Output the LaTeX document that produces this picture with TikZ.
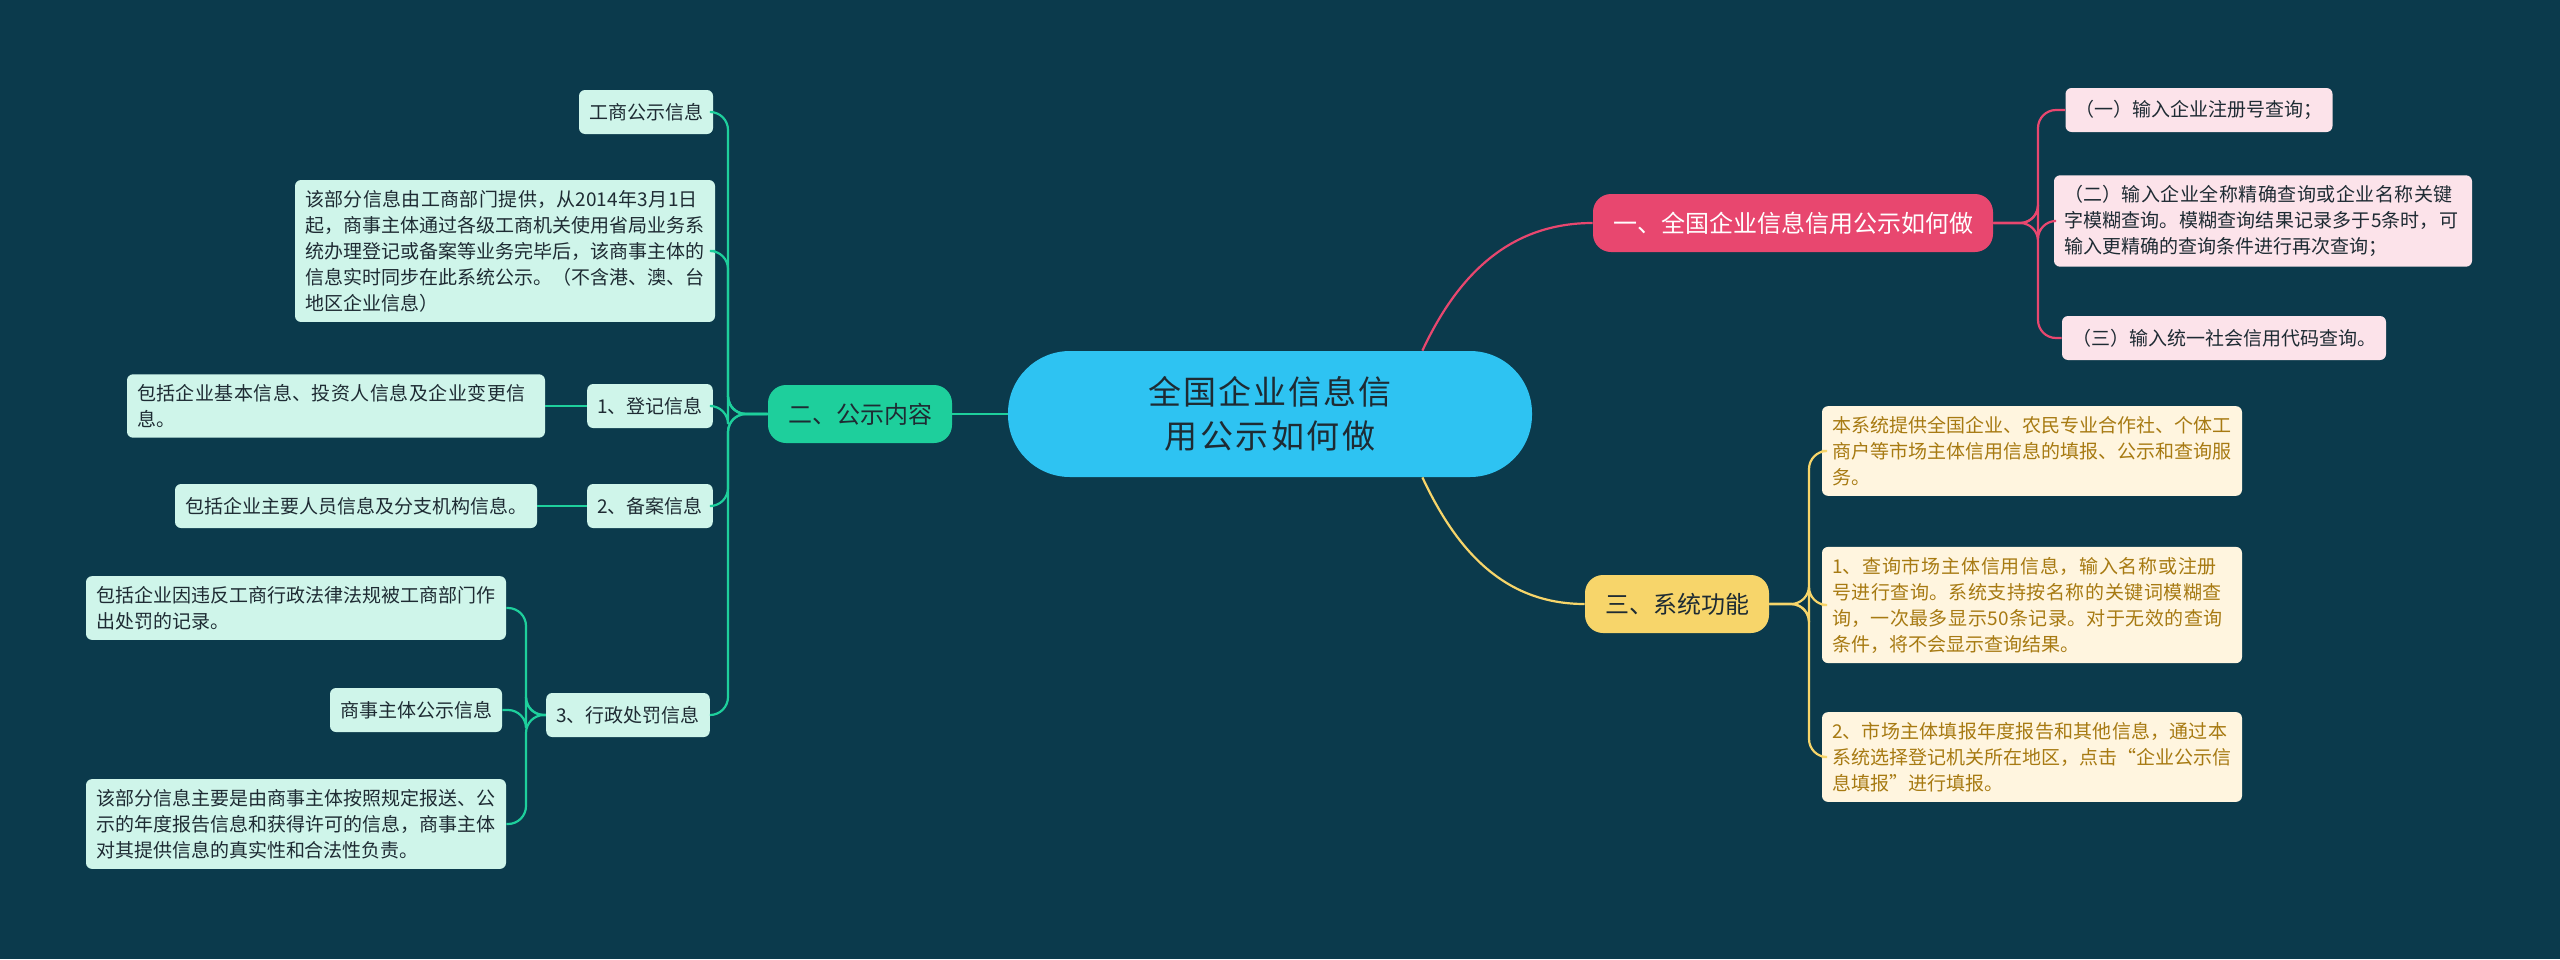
\documentclass[tikz,border=0pt]{standalone}
\usepackage{fontspec}
\setmainfont{Noto Sans CJK SC}
\XeTeXlinebreaklocale "zh"
\XeTeXlinebreakskip=0pt plus 1pt
\begin{document}
\begin{tikzpicture}[x=0.5pt,y=-0.5pt,
  leaf/.style={rounded corners=3pt,inner xsep=5pt,inner ysep=5pt,font=\fontsize{9.5}{13}\selectfont,align=left,minimum height=22pt},
  gleaf/.style={leaf,fill=gfill,text=dtext},
  rleaf/.style={leaf,fill=rfill,text=dtext},
  yleaf/.style={leaf,fill=yfill,text=ytext},
  lone/.style={rounded corners=9pt,font=\fontsize{12}{15}\selectfont,inner xsep=10pt,minimum height=29pt},
  gl/.style={draw=gline,line width=1.1pt},
  rl/.style={draw=rline,line width=1.1pt},
  yl/.style={draw=yline,line width=1.1pt}]
\definecolor{bg}{HTML}{0B3A4C}
\definecolor{gfill}{HTML}{CFF5EA}
\definecolor{rfill}{HTML}{FCE3EA}
\definecolor{yfill}{HTML}{FFF5DF}
\definecolor{dtext}{HTML}{1E2B33}
\definecolor{ytext}{HTML}{A77A12}
\definecolor{gline}{HTML}{1ECF9C}
\definecolor{rline}{HTML}{E8476F}
\definecolor{yline}{HTML}{F7D56A}
\definecolor{cfill}{HTML}{2EC3F2}
\fill[bg] (0,0) rectangle (2560,959);
\useasboundingbox (0,0) rectangle (2560,959);

\node[fill=cfill,text=dtext,rounded corners=31pt,minimum width=262pt,minimum height=63pt,text width=190pt,align=center,font=\fontsize{16.5}{22}\selectfont] (c) at (1270,414) {全国企业信息信用公示如何做};

% red branch
\node[lone,fill=rline,text=white] (r) at (1793,223) {一、全国企业信息信用公示如何做};
\node[rleaf] (r1) at (2199,110) {（一）输入企业注册号查询；};
\node[rleaf,text width=199pt] (r2) at (2263,221) {（二）输入企业全称精确查询或企业名称关键字模糊查询。模糊查询结果记录多于5条时，可输入更精确的查询条件进行再次查询；};
\node[rleaf] (r3) at (2224,338) {（三）输入统一社会信用代码查询。};
\draw[rl] (c.north east) ++(-110,0) coordinate (cr) to[out=65,in=180] (r.west);
\foreach \n in {r1,r2,r3} \draw[rl,rounded corners=9pt] (r.east) -- (2038,223) |- (\n.west);

% yellow branch
\node[lone,fill=yline,text=dtext] (y) at (1677,604) {三、系统功能};
\node[yleaf,text width=200pt] (y1) at (2032,451) {本系统提供全国企业、农民专业合作社、个体工商户等市场主体信用信息的填报、公示和查询服务。};
\node[yleaf,text width=200pt] (y2) at (2032,605) {1、查询市场主体信用信息，输入名称或注册号进行查询。系统支持按名称的关键词模糊查询，一次最多显示50条记录。对于无效的查询条件，将不会显示查询结果。};
\node[yleaf,text width=200pt] (y3) at (2032,757) {2、市场主体填报年度报告和其他信息，通过本系统选择登记机关所在地区，点击“企业公示信息填报”进行填报。};
\draw[yl] (c.south east) ++(-110,0) coordinate (cy) to[out=-65,in=180] (y.west);
\foreach \n in {y1,y2,y3} \draw[yl,rounded corners=9pt] (y.east) -- (1809,604) |- (\n.west);

% green branch
\node[lone,fill=gline,text=dtext] (g) at (860,414) {二、公示内容};
\draw[gl] (c.west) -- (g.east);
\node[gleaf] (g1) at (646,112) {工商公示信息};
\node[gleaf,text width=200pt] (g2) at (505,251) {该部分信息由工商部门提供，从2014年3月1日起，商事主体通过各级工商机关使用省局业务系统办理登记或备案等业务完毕后，该商事主体的信息实时同步在此系统公示。（不含港、澳、台地区企业信息）};
\node[gleaf] (g3) at (650,406) {1、登记信息};
\node[gleaf,text width=199pt] (g3a) at (336,406) {包括企业基本信息、投资人信息及企业变更信息。};
\node[gleaf] (g4) at (650,506) {2、备案信息};
\node[gleaf] (g4a) at (356,506) {包括企业主要人员信息及分支机构信息。};
\node[gleaf] (g5) at (628,715) {3、行政处罚信息};
\node[gleaf,text width=200pt] (g5a) at (296,608) {包括企业因违反工商行政法律法规被工商部门作出处罚的记录。};
\node[gleaf] (g5b) at (416,710) {商事主体公示信息};
\node[gleaf,text width=200pt] (g5c) at (296,824) {该部分信息主要是由商事主体按照规定报送、公示的年度报告信息和获得许可的信息，商事主体对其提供信息的真实性和合法性负责。};
\foreach \n in {g1,g2,g3,g4,g5} \draw[gl,rounded corners=9pt] (g.west) -- (728,414) |- (\n.east);
\draw[gl] (g3.west) -- (g3a.east);
\draw[gl] (g4.west) -- (g4a.east);
\foreach \n in {g5a,g5b,g5c} \draw[gl,rounded corners=9pt] (g5.west) -- (526,715) |- (\n.east);
\end{tikzpicture}
\end{document}
